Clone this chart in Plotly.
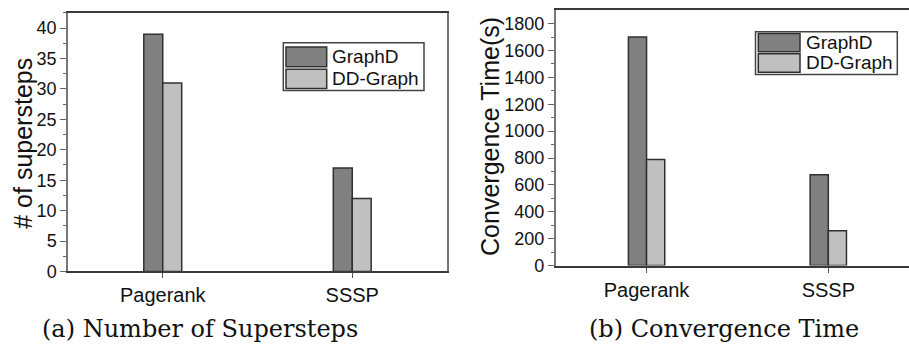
import plotly.graph_objects as go

categories = ["Pagerank", "SSSP"]
series_names = ["GraphD", "DD-Graph"]
supersteps_graphd = [39, 17]
supersteps_ddgraph = [31, 12]
time_graphd = [1700, 675]
time_ddgraph = [790, 260]
captions = ["(a) Number of Supersteps", "(b) Convergence Time"]
ytitles = ["# of supersteps", "Convergence Time(s)"]

W, H = 909, 347
COL_A = "#808080"
COL_B = "#c0c0c0"
EDGE = "#303030"
SANS = "Liberation Sans, Arial, sans-serif"
SERIF = "DejaVu Serif, serif"


def px(x):
    return x / W


def py(y):
    return 1 - y / H


fig = go.Figure()

for vals, name, col in [(supersteps_graphd, series_names[0], COL_A),
                        (supersteps_ddgraph, series_names[1], COL_B)]:
    fig.add_trace(go.Bar(x=categories, y=vals, name=name, marker_color=col,
                         marker_line=dict(color=EDGE, width=1.5),
                         xaxis="x", yaxis="y", showlegend=False))
for vals, name, col in [(time_graphd, series_names[0], COL_A),
                        (time_ddgraph, series_names[1], COL_B)]:
    fig.add_trace(go.Bar(x=categories, y=vals, name=name, marker_color=col,
                         marker_line=dict(color=EDGE, width=1.5),
                         xaxis="x2", yaxis="y2", showlegend=False))

xcommon = dict(type="category", showline=True, linecolor="#3a3a3a", linewidth=2,
               ticks="outside", ticklen=5, tickcolor="#555", tickwidth=1,
               tickfont=dict(family=SANS, size=20, color="#111"),
               showgrid=False, zeroline=False)
ycommon = dict(showline=True, linecolor="#777", linewidth=1.5,
               ticks="outside", ticklen=6, tickcolor="#666", tickwidth=1,
               tickfont=dict(family=SANS, size=18, color="#111"),
               showgrid=False, zeroline=False)

fig.update_layout(
    width=W, height=H,
    margin=dict(l=0, r=0, t=0, b=0),
    paper_bgcolor="white", plot_bgcolor="white",
    barmode="group", bargap=0.8, bargroupgap=0,
    xaxis=dict(**xcommon, domain=[px(68), px(447)], range=[-0.5, 1.5],
               anchor="y", mirror=True),
    yaxis=dict(**ycommon, domain=[py(279.5), py(13)], range=[0, 42.55],
               anchor="x", dtick=5, mirror=True,
               minor=dict(dtick=2.5, ticks="outside", ticklen=3, tickcolor="#666")),
    xaxis2=dict(**xcommon, domain=[px(555.7), 1.0], range=[-0.5, 1.444],
                anchor="y2", mirror=True),
    yaxis2=dict(**ycommon, domain=[py(273.5), py(10.7)], range=[0, 1898],
                anchor="x2", dtick=200, mirror=False,
                minor=dict(dtick=100, ticks="outside", ticklen=3, tickcolor="#666")),
)

shapes = []
annotations = []

# custom legends
legends = [
    dict(box=(283.3, 44, 424, 93.3), sw_x=(286, 326.7),
         sw_y=[(48.3, 68.8), (71.2, 91)], tx=330),
    dict(box=(755.5, 32.7, 897.3, 76.7), sw_x=(758.3, 800),
         sw_y=[(34.5, 53.3), (55.4, 74.3)], tx=804),
]
for lg in legends:
    x0, y0, x1, y1 = lg["box"]
    shapes.append(dict(type="rect", xref="paper", yref="paper",
                       x0=px(x0), x1=px(x1), y0=py(y1), y1=py(y0),
                       line=dict(color="#444", width=1.5), fillcolor="white"))
    for (sy0, sy1), col, name in zip(lg["sw_y"], [COL_A, COL_B], series_names):
        shapes.append(dict(type="rect", xref="paper", yref="paper",
                           x0=px(lg["sw_x"][0]), x1=px(lg["sw_x"][1]),
                           y0=py(sy1), y1=py(sy0),
                           line=dict(color=EDGE, width=1.5), fillcolor=col))
        annotations.append(dict(xref="paper", yref="paper", x=px(lg["tx"]),
                                y=py((sy0 + sy1) / 2), xanchor="left", yanchor="middle",
                                text=name, showarrow=False,
                                font=dict(family=SANS, size=19, color="#111")))

# y-axis titles
annotations.append(dict(xref="paper", yref="paper", x=px(23), y=py(148),
                        text=ytitles[0], textangle=-90, showarrow=False,
                        xanchor="center", yanchor="middle",
                        font=dict(family=SANS, size=25, color="#111")))
annotations.append(dict(xref="paper", yref="paper", x=px(490), y=py(141),
                        text=ytitles[1], textangle=-90, showarrow=False,
                        xanchor="center", yanchor="middle",
                        font=dict(family=SANS, size=25, color="#111")))

# captions
annotations.append(dict(xref="paper", yref="paper", x=px(200), y=py(339),
                        text=captions[0], showarrow=False,
                        xanchor="center", yanchor="middle",
                        font=dict(family=SERIF, size=24, color="#111")))
annotations.append(dict(xref="paper", yref="paper", x=px(724), y=py(339),
                        text=captions[1], showarrow=False,
                        xanchor="center", yanchor="middle",
                        font=dict(family=SERIF, size=24, color="#111")))

fig.update_layout(shapes=shapes, annotations=annotations)
fig.write_html("out.html")
